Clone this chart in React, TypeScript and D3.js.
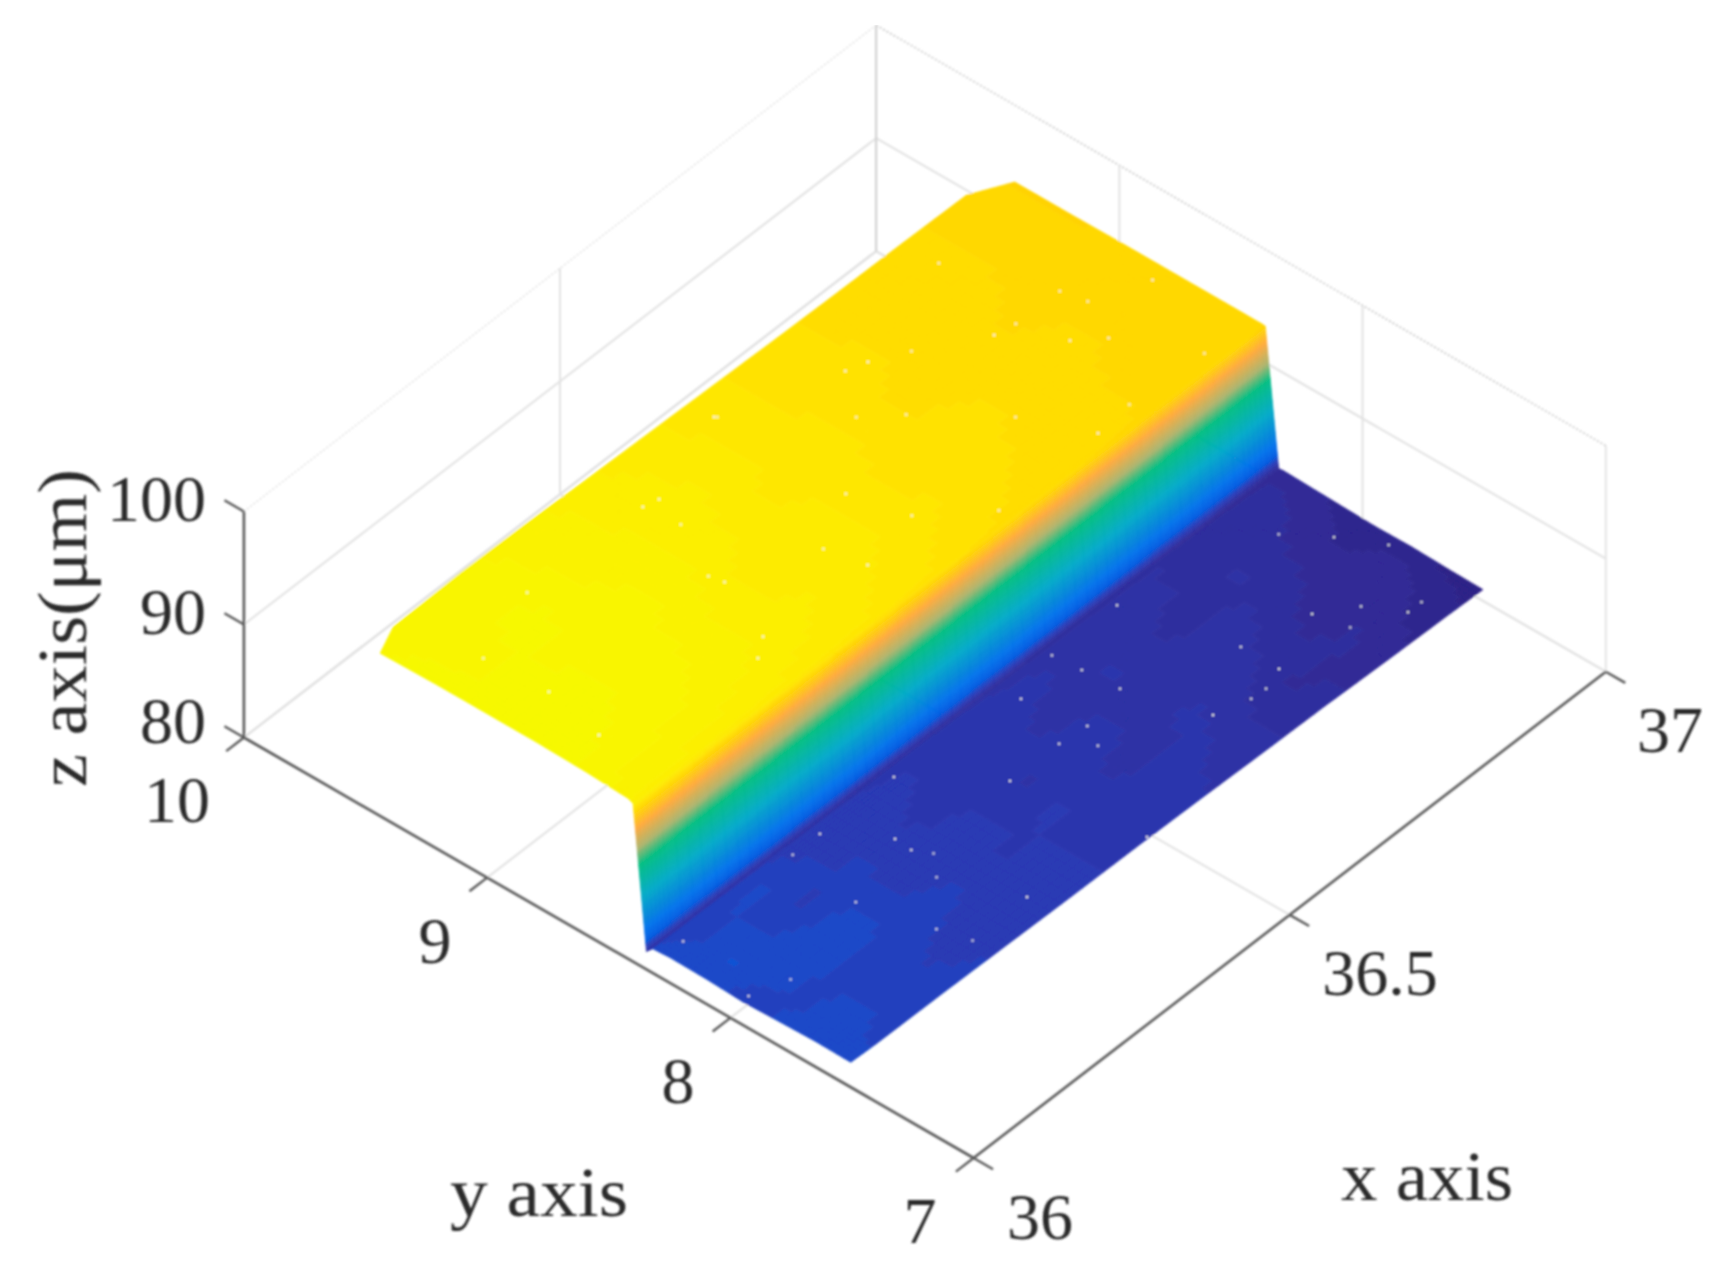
import React from "react";
import * as d3 from "d3";

const W = 1721;
const H = 1277;

// Axis ticks
const xTicks = [36, 36.5, 37];
const yTicks = [7, 8, 9, 10];
const zTicks = [80, 90, 100];
const xTickLabels = ["36", "36.5", "37"];
const yTickLabels = ["7", "8", "9", "10"];
const zTickLabels = ["80", "90", "100"];

// Surface grid: z (µm) at each (x row, y column)
const surfaceX = [36, 36.04, 36.15, 36.25, 36.35, 36.45, 36.55, 36.65, 36.75, 36.85, 36.95, 37];
const surfaceY = [7.505, 7.65, 7.8, 7.95, 8.1, 8.25, 8.32, 8.345, 8.4, 8.42, 8.6, 8.8, 9.0, 9.2, 9.45];
const farEdgeY = [9.44, 9.49, 9.5, 9.5, 9.5, 9.5, 9.5, 9.5, 9.5, 9.5, 9.5, 9.43];
const surfaceZ = [
  [82.2, 82.25, 82.15, 82.05, 82.2, 82.25, 82.15, 81.6, 94.0, 94.2, 94.4, 94.5, 94.5, 94.5, 94.4],
  [82.1, 82.2, 82.1, 82.15, 82.3, 82.1, 82.05, 81.6, 94.0, 94.1, 94.4, 94.5, 94.45, 94.4, 94.4],
  [82.05, 82.0, 82.1, 82.25, 81.95, 82.15, 82.0, 81.6, 93.9, 94.1, 94.3, 94.4, 94.4, 94.45, 94.3],
  [81.95, 81.85, 82.05, 81.9, 82.0, 81.85, 81.9, 81.55, 93.8, 93.95, 94.15, 94.2, 94.3, 94.2, 94.2],
  [81.85, 81.95, 81.8, 81.95, 81.75, 81.9, 81.8, 81.5, 93.7, 93.85, 94.0, 93.9, 94.05, 94.1, 94.0],
  [81.8, 81.7, 81.85, 81.65, 81.8, 81.7, 81.75, 81.5, 93.6, 93.7, 93.85, 93.95, 93.8, 93.9, 93.85],
  [81.7, 81.75, 81.6, 81.8, 81.6, 81.75, 81.65, 81.45, 93.5, 93.55, 93.7, 93.65, 93.75, 93.7, 93.7],
  [81.55, 81.65, 81.7, 81.5, 81.7, 81.6, 81.6, 81.4, 93.4, 93.45, 93.55, 93.6, 93.5, 93.6, 93.55],
  [81.45, 81.35, 81.55, 81.65, 81.45, 81.6, 81.55, 81.4, 93.35, 93.4, 93.45, 93.5, 93.4, 93.45, 93.45],
  [81.25, 81.4, 81.3, 81.45, 81.55, 81.4, 81.5, 81.35, 93.3, 93.35, 93.35, 93.4, 93.35, 93.4, 93.4],
  [81.1, 81.2, 81.35, 81.2, 81.3, 81.45, 81.4, 81.3, 93.25, 93.3, 93.3, 93.3, 93.3, 93.3, 93.3],
  [81.0, 81.05, 81.15, 81.1, 81.2, 81.3, 81.35, 81.3, 93.2, 93.25, 93.25, 93.25, 93.25, 93.2, 93.2],
];

// Colour map stops by height
const paletteZ = [81, 81.3, 81.6, 81.9, 82.2, 82.5, 83.5, 84.3, 86.2, 88.8, 90.2, 91.9, 92.8, 93.3, 93.6, 94.0, 94.5];
const paletteColor = ["#2d2387", "#302a96", "#2e32a5", "#2a3ab4", "#1c48c8", "#005ae1", "#0073eb", "#0082dc", "#00aac8", "#00be82", "#aab46e", "#ffaa3c", "#ffc814", "#ffd800", "#ffe200", "#fcee00", "#f7f805"];

// Missing-sample specks (x, y) on the lower flat
const floorSpeckX = [36.954, 36.92, 36.891, 36.982, 36.916, 36.937, 36.859, 36.849, 36.762, 36.762, 36.73, 36.708, 36.663, 36.631, 36.727, 36.624, 36.627, 36.552, 36.565, 36.549, 36.525, 36.448, 36.374, 36.257, 36.214, 36.302, 36.3, 36.311, 36.285, 36.201, 36.224, 36.323, 36.235, 36.475, 36.018, 36.066, 36.038];
const floorSpeckY = [7.998, 8.137, 7.723, 7.846, 7.595, 7.594, 7.684, 7.815, 7.882, 7.725, 7.695, 7.699, 7.739, 8.038, 8.3, 8.3, 8.185, 8.24, 8.001, 7.916, 8.013, 8.015, 8.3, 8.3, 8.3, 8.108, 8.036, 7.973, 7.893, 8.007, 7.735, 7.62, 7.615, 7.522, 7.972, 7.924, 8.293];
// Missing-sample specks (x, y) on the upper flat
const topSpeckX = [36.849, 36.898, 36.905, 36.974, 36.83, 36.802, 36.876, 36.847, 36.727, 36.659, 36.685, 36.516, 36.518, 36.382, 36.362, 36.367, 36.649, 36.612, 36.329, 36.325, 36.446, 36.435, 36.262, 36.291, 36.064, 36.081, 36.183, 36.076, 36.534, 36.515, 36.599, 36.72, 36.923, 36.812, 36.757];
const topSpeckY = [9.35, 8.98, 8.883, 8.796, 8.984, 9.0, 8.722, 8.805, 9.145, 9.24, 9.215, 9.408, 9.4, 9.286, 9.301, 9.158, 8.964, 9.073, 8.879, 8.935, 8.595, 8.748, 8.568, 8.622, 8.707, 8.957, 9.311, 9.213, 8.642, 8.864, 8.453, 8.699, 8.45, 8.47, 8.456];

// Scales: each data axis contributes a screen offset
const xToSx = d3.scaleLinear().domain([36, 37]).range([973.6, 1605.8]);
const xToSy = d3.scaleLinear().domain([36, 37]).range([1158, 671.7]);
const yToSx = d3.scaleLinear().domain([7, 10]).range([0, -729.7]);
const yToSy = d3.scaleLinear().domain([7, 10]).range([0, -420.5]);
const zToSy = d3.scaleLinear().domain([80, 100]).range([0, -226]);

const project = (x: number, y: number, z: number): [number, number] => [
  xToSx(x) + yToSx(y),
  xToSy(x) + yToSy(y) + zToSy(z),
];

const colorOf = d3.scaleLinear<string>().domain(paletteZ).range(paletteColor).interpolate(d3.interpolateRgb).clamp(true);

const lerp = (a: number, b: number, t: number) => a + (b - a) * t;
const wallColumn = 7;
const zStep = 0.15;
const wallStep = 0.05;

function surfacePaths() {
  const byColor = new Map<string, d3.Path>();
  const yAt = (r: number, c: number) => (c === surfaceY.length - 1 ? farEdgeY[r] : surfaceY[c]);
  const sample = (r: number, c: number, a: number, b: number) => {
    const x = lerp(surfaceX[r], surfaceX[r + 1], a);
    const y = lerp(lerp(yAt(r, c), yAt(r, c + 1), b), lerp(yAt(r + 1, c), yAt(r + 1, c + 1), b), a);
    const z = lerp(lerp(surfaceZ[r][c], surfaceZ[r][c + 1], b), lerp(surfaceZ[r + 1][c], surfaceZ[r + 1][c + 1], b), a);
    return { x, y, z };
  };
  for (let r = 0; r < surfaceX.length - 1; r++) {
    for (let c = 0; c < surfaceY.length - 1; c++) {
      const na = 6;
      const nb = c === wallColumn ? 120 : 5;
      const step = c === wallColumn ? wallStep : zStep;
      for (let i = 0; i < na; i++) {
        for (let j = 0; j < nb; j++) {
          const center = sample(r, c, (i + 0.5) / na, (j + 0.5) / nb);
          const level = Math.round(center.z / step) * step;
          const col = colorOf(level);
          if (!byColor.has(col)) byColor.set(col, d3.path());
          const p = byColor.get(col)!;
          const corners = [
            sample(r, c, i / na, j / nb),
            sample(r, c, (i + 1) / na, j / nb),
            sample(r, c, (i + 1) / na, (j + 1) / nb),
            sample(r, c, i / na, (j + 1) / nb),
          ].map((s) => project(s.x, s.y, s.z));
          p.moveTo(corners[0][0], corners[0][1]);
          corners.slice(1).forEach((q) => p.lineTo(q[0], q[1]));
          p.closePath();
        }
      }
    }
  }
  return Array.from(byColor.entries()).map(([color, p]) => ({ color, d: p.toString() }));
}

const GRID = "#e2e2e2";
const AXIS = "#5a5a5a";
const TEXT = "#2a2a2a";
const FONT = "'Liberation Serif', serif";

type Seg = { a: [number, number, number]; b: [number, number, number] };
const L = (s: Seg, stroke: string, width: number, dash?: string, key?: string) => {
  const p = project(...s.a);
  const q = project(...s.b);
  return <line key={key} x1={p[0]} y1={p[1]} x2={q[0]} y2={q[1]} stroke={stroke} strokeWidth={width} strokeDasharray={dash} />;
};

const xLabelPos = [[1040, 1216], [1380, 972], [1670, 729]];
const yLabelPos = [[920, 1220], [678, 1080], [435, 940], [177, 799]];
const zLabelPos = [[206, 720], [206, 611], [206, 498]];

export default function App() {
  const paths = React.useMemo(surfacePaths, []);
  const sharpGrid: React.ReactNode[] = [];
  yTicks.forEach((y, i) => {
    sharpGrid.push(L({ a: [36, y, 80], b: [37, y, 80] }, i === 3 ? "#cdcdcd" : GRID, 2, undefined, `fy${i}`));
  });
  xTicks.forEach((x, i) => {
    sharpGrid.push(L({ a: [x, 7, 80], b: [x, 10, 80] }, GRID, 2, undefined, `fx${i}`));
  });
  zTicks.forEach((z, i) => {
    const top = z === 100;
    sharpGrid.push(L({ a: [36, 10, z], b: [37, 10, z] }, top ? "#e2e2e2" : GRID, top ? 1.6 : 2, top ? "2 2" : undefined, `wa${i}`));
    sharpGrid.push(L({ a: [37, 10, z], b: [37, 7, z] }, top ? "#c4c4c4" : GRID, top ? 1.6 : 2, top ? "2 2" : undefined, `wb${i}`));
  });
  sharpGrid.push(L({ a: [36.5, 10, 80], b: [36.5, 10, 100] }, GRID, 2, undefined, "v1"));
  sharpGrid.push(L({ a: [37, 10, 80], b: [37, 10, 100] }, "#d2d2d2", 2.2, undefined, "v2"));
  sharpGrid.push(L({ a: [37, 9, 80], b: [37, 9, 100] }, GRID, 2, undefined, "v3"));
  sharpGrid.push(L({ a: [37, 8, 80], b: [37, 8, 100] }, GRID, 2, undefined, "v4"));
  sharpGrid.push(L({ a: [37, 7, 80], b: [37, 7, 100] }, GRID, 1.8, undefined, "v5"));

  const speckDots = (xs: number[], ys: number[], z: number, pre: string) =>
    xs.map((x, i) => {
      const p = project(x, ys[i], z);
      return <rect key={pre + i} x={p[0] - 1} y={p[1] - 1} width={2} height={2} fill="#f8f8f2" />;
    });

  const tickLen = 0.08;
  const tickX = 0.028;

  return (
    <svg width={W} height={H} style={{ position: "absolute", left: 0, top: 0, background: "#fff" }}>
      <defs>
        <filter id="soft" x="0" y="0" width="100%" height="100%">
          <feGaussianBlur stdDeviation="0.8" />
        </filter>
      </defs>
      <g filter="url(#soft)">
        {sharpGrid}
        <g>
          {paths.map((p) => (
            <path key={p.color} d={p.d} fill={p.color} stroke={p.color} strokeWidth={0.7} />
          ))}
        </g>
        {speckDots(floorSpeckX, floorSpeckY, 81.5, "f")}
        {speckDots(topSpeckX, topSpeckY, 93.5, "t")}

        {/* Axes */}
        {L({ a: [36, 10, 80], b: [36, 10, 100] }, AXIS, 2.6, undefined, "az")}
        {L({ a: [36, 7, 80], b: [36, 10, 80] }, AXIS, 2.6, undefined, "ay")}
        {L({ a: [36, 7, 80], b: [37, 7, 80] }, AXIS, 2.6, undefined, "ax")}
        {zTicks.map((z) => L({ a: [36, 10, z], b: [36, 10 + tickLen, z] }, AXIS, 2.4, undefined, `tz${z}`))}
        {yTicks.map((y) => L({ a: [36, y, 80], b: [36 - tickX, y, 80] }, AXIS, 2.4, undefined, `ty${y}`))}
        {xTicks.map((x) => L({ a: [x, 7, 80], b: [x, 7 - tickLen, 80] }, AXIS, 2.4, undefined, `tx${x}`))}

        {/* Tick labels */}
        <g fontFamily={FONT} fontSize={66} fill={TEXT} dominantBaseline="central">
          {xTickLabels.map((t, i) => (
            <text key={t} x={xLabelPos[i][0]} y={xLabelPos[i][1]} textAnchor="middle">{t}</text>
          ))}
          {yTickLabels.map((t, i) => (
            <text key={t} x={yLabelPos[i][0]} y={yLabelPos[i][1]} textAnchor="middle">{t}</text>
          ))}
          {zTickLabels.map((t, i) => (
            <text key={t} x={zLabelPos[i][0]} y={zLabelPos[i][1]} textAnchor="end">{t}</text>
          ))}
        </g>

        {/* Axis labels */}
        <g fontFamily={FONT} fontSize={70} fill={TEXT}>
          <text x={539} y={1216} textAnchor="middle" textLength={178} lengthAdjust="spacingAndGlyphs">y axis</text>
          <text x={1427} y={1200} textAnchor="middle" textLength={172} lengthAdjust="spacingAndGlyphs">x axis</text>
          <text transform="translate(86,628) rotate(-90)" textAnchor="middle" textLength={318} lengthAdjust="spacingAndGlyphs">z axis(μm)</text>
        </g>
      </g>
    </svg>
  );
}
